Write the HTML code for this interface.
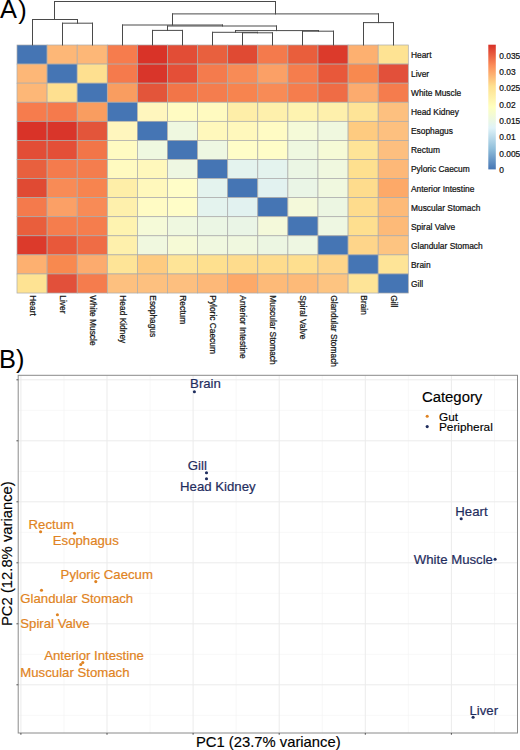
<!DOCTYPE html><html><head><meta charset="utf-8"><style>html,body{margin:0;padding:0;background:#fff;width:520px;height:750px;overflow:hidden}svg{display:block}text{font-family:"Liberation Sans",sans-serif}</style></head><body>
<svg width="520" height="750" viewBox="0 0 520 750">
<rect width="520" height="750" fill="#fff"/>
<text x="-0.1" y="18.4" font-size="25.4" fill="#000">A</text><text x="18.3" y="18.6" font-size="25.4" fill="#000">)</text>
<rect x="17.00" y="45.00" width="30.10" height="19.08" fill="#4575B4" stroke="#ababab" stroke-width="0.7"/>
<rect x="47.10" y="45.00" width="30.10" height="19.08" fill="#FDB777" stroke="#ababab" stroke-width="0.7"/>
<rect x="77.20" y="45.00" width="30.10" height="19.08" fill="#FDB777" stroke="#ababab" stroke-width="0.7"/>
<rect x="107.30" y="45.00" width="30.10" height="19.08" fill="#F67C4D" stroke="#ababab" stroke-width="0.7"/>
<rect x="137.40" y="45.00" width="30.10" height="19.08" fill="#D93328" stroke="#ababab" stroke-width="0.7"/>
<rect x="167.50" y="45.00" width="30.10" height="19.08" fill="#E24D36" stroke="#ababab" stroke-width="0.7"/>
<rect x="197.60" y="45.00" width="30.10" height="19.08" fill="#E8603E" stroke="#ababab" stroke-width="0.7"/>
<rect x="227.70" y="45.00" width="30.10" height="19.08" fill="#E04A33" stroke="#ababab" stroke-width="0.7"/>
<rect x="257.80" y="45.00" width="30.10" height="19.08" fill="#F47A4C" stroke="#ababab" stroke-width="0.7"/>
<rect x="287.90" y="45.00" width="30.10" height="19.08" fill="#E95E3C" stroke="#ababab" stroke-width="0.7"/>
<rect x="318.00" y="45.00" width="30.10" height="19.08" fill="#DC3A2B" stroke="#ababab" stroke-width="0.7"/>
<rect x="348.10" y="45.00" width="30.10" height="19.08" fill="#FDB070" stroke="#ababab" stroke-width="0.7"/>
<rect x="378.20" y="45.00" width="30.10" height="19.08" fill="#FEE393" stroke="#ababab" stroke-width="0.7"/>
<rect x="17.00" y="64.08" width="30.10" height="19.08" fill="#FDB777" stroke="#ababab" stroke-width="0.7"/>
<rect x="47.10" y="64.08" width="30.10" height="19.08" fill="#4575B4" stroke="#ababab" stroke-width="0.7"/>
<rect x="77.20" y="64.08" width="30.10" height="19.08" fill="#FEE090" stroke="#ababab" stroke-width="0.7"/>
<rect x="107.30" y="64.08" width="30.10" height="19.08" fill="#F57A4C" stroke="#ababab" stroke-width="0.7"/>
<rect x="137.40" y="64.08" width="30.10" height="19.08" fill="#D9352A" stroke="#ababab" stroke-width="0.7"/>
<rect x="167.50" y="64.08" width="30.10" height="19.08" fill="#E44F37" stroke="#ababab" stroke-width="0.7"/>
<rect x="197.60" y="64.08" width="30.10" height="19.08" fill="#F47B4D" stroke="#ababab" stroke-width="0.7"/>
<rect x="227.70" y="64.08" width="30.10" height="19.08" fill="#F88B56" stroke="#ababab" stroke-width="0.7"/>
<rect x="257.80" y="64.08" width="30.10" height="19.08" fill="#FBA066" stroke="#ababab" stroke-width="0.7"/>
<rect x="287.90" y="64.08" width="30.10" height="19.08" fill="#F57D4D" stroke="#ababab" stroke-width="0.7"/>
<rect x="318.00" y="64.08" width="30.10" height="19.08" fill="#E8583A" stroke="#ababab" stroke-width="0.7"/>
<rect x="348.10" y="64.08" width="30.10" height="19.08" fill="#F8894F" stroke="#ababab" stroke-width="0.7"/>
<rect x="378.20" y="64.08" width="30.10" height="19.08" fill="#E2503A" stroke="#ababab" stroke-width="0.7"/>
<rect x="17.00" y="83.16" width="30.10" height="19.08" fill="#FDB777" stroke="#ababab" stroke-width="0.7"/>
<rect x="47.10" y="83.16" width="30.10" height="19.08" fill="#FEE090" stroke="#ababab" stroke-width="0.7"/>
<rect x="77.20" y="83.16" width="30.10" height="19.08" fill="#4575B4" stroke="#ababab" stroke-width="0.7"/>
<rect x="107.30" y="83.16" width="30.10" height="19.08" fill="#F99D60" stroke="#ababab" stroke-width="0.7"/>
<rect x="137.40" y="83.16" width="30.10" height="19.08" fill="#E3553A" stroke="#ababab" stroke-width="0.7"/>
<rect x="167.50" y="83.16" width="30.10" height="19.08" fill="#F27548" stroke="#ababab" stroke-width="0.7"/>
<rect x="197.60" y="83.16" width="30.10" height="19.08" fill="#F47D4E" stroke="#ababab" stroke-width="0.7"/>
<rect x="227.70" y="83.16" width="30.10" height="19.08" fill="#F7844F" stroke="#ababab" stroke-width="0.7"/>
<rect x="257.80" y="83.16" width="30.10" height="19.08" fill="#F88B56" stroke="#ababab" stroke-width="0.7"/>
<rect x="287.90" y="83.16" width="30.10" height="19.08" fill="#F57D4D" stroke="#ababab" stroke-width="0.7"/>
<rect x="318.00" y="83.16" width="30.10" height="19.08" fill="#EF6C45" stroke="#ababab" stroke-width="0.7"/>
<rect x="348.10" y="83.16" width="30.10" height="19.08" fill="#FCAB6E" stroke="#ababab" stroke-width="0.7"/>
<rect x="378.20" y="83.16" width="30.10" height="19.08" fill="#F57C4D" stroke="#ababab" stroke-width="0.7"/>
<rect x="17.00" y="102.24" width="30.10" height="19.08" fill="#F67C4D" stroke="#ababab" stroke-width="0.7"/>
<rect x="47.10" y="102.24" width="30.10" height="19.08" fill="#F57A4C" stroke="#ababab" stroke-width="0.7"/>
<rect x="77.20" y="102.24" width="30.10" height="19.08" fill="#F99D60" stroke="#ababab" stroke-width="0.7"/>
<rect x="107.30" y="102.24" width="30.10" height="19.08" fill="#4575B4" stroke="#ababab" stroke-width="0.7"/>
<rect x="137.40" y="102.24" width="30.10" height="19.08" fill="#FFF6BE" stroke="#ababab" stroke-width="0.7"/>
<rect x="167.50" y="102.24" width="30.10" height="19.08" fill="#FFFBC2" stroke="#ababab" stroke-width="0.7"/>
<rect x="197.60" y="102.24" width="30.10" height="19.08" fill="#FFFAC0" stroke="#ababab" stroke-width="0.7"/>
<rect x="227.70" y="102.24" width="30.10" height="19.08" fill="#FEEEA8" stroke="#ababab" stroke-width="0.7"/>
<rect x="257.80" y="102.24" width="30.10" height="19.08" fill="#FEF0AC" stroke="#ababab" stroke-width="0.7"/>
<rect x="287.90" y="102.24" width="30.10" height="19.08" fill="#FEF3B0" stroke="#ababab" stroke-width="0.7"/>
<rect x="318.00" y="102.24" width="30.10" height="19.08" fill="#FEF0AC" stroke="#ababab" stroke-width="0.7"/>
<rect x="348.10" y="102.24" width="30.10" height="19.08" fill="#FEE497" stroke="#ababab" stroke-width="0.7"/>
<rect x="378.20" y="102.24" width="30.10" height="19.08" fill="#FDC07F" stroke="#ababab" stroke-width="0.7"/>
<rect x="17.00" y="121.32" width="30.10" height="19.08" fill="#D93328" stroke="#ababab" stroke-width="0.7"/>
<rect x="47.10" y="121.32" width="30.10" height="19.08" fill="#D9352A" stroke="#ababab" stroke-width="0.7"/>
<rect x="77.20" y="121.32" width="30.10" height="19.08" fill="#E3553A" stroke="#ababab" stroke-width="0.7"/>
<rect x="107.30" y="121.32" width="30.10" height="19.08" fill="#FFF6BE" stroke="#ababab" stroke-width="0.7"/>
<rect x="137.40" y="121.32" width="30.10" height="19.08" fill="#4575B4" stroke="#ababab" stroke-width="0.7"/>
<rect x="167.50" y="121.32" width="30.10" height="19.08" fill="#EFF8E0" stroke="#ababab" stroke-width="0.7"/>
<rect x="197.60" y="121.32" width="30.10" height="19.08" fill="#FFF8BC" stroke="#ababab" stroke-width="0.7"/>
<rect x="227.70" y="121.32" width="30.10" height="19.08" fill="#FFF8BC" stroke="#ababab" stroke-width="0.7"/>
<rect x="257.80" y="121.32" width="30.10" height="19.08" fill="#FFFBC4" stroke="#ababab" stroke-width="0.7"/>
<rect x="287.90" y="121.32" width="30.10" height="19.08" fill="#F5FAD8" stroke="#ababab" stroke-width="0.7"/>
<rect x="318.00" y="121.32" width="30.10" height="19.08" fill="#F0F8DF" stroke="#ababab" stroke-width="0.7"/>
<rect x="348.10" y="121.32" width="30.10" height="19.08" fill="#FECB80" stroke="#ababab" stroke-width="0.7"/>
<rect x="378.20" y="121.32" width="30.10" height="19.08" fill="#FDC07F" stroke="#ababab" stroke-width="0.7"/>
<rect x="17.00" y="140.40" width="30.10" height="19.08" fill="#E24D36" stroke="#ababab" stroke-width="0.7"/>
<rect x="47.10" y="140.40" width="30.10" height="19.08" fill="#E44F37" stroke="#ababab" stroke-width="0.7"/>
<rect x="77.20" y="140.40" width="30.10" height="19.08" fill="#F27548" stroke="#ababab" stroke-width="0.7"/>
<rect x="107.30" y="140.40" width="30.10" height="19.08" fill="#FFFBC2" stroke="#ababab" stroke-width="0.7"/>
<rect x="137.40" y="140.40" width="30.10" height="19.08" fill="#EFF8E0" stroke="#ababab" stroke-width="0.7"/>
<rect x="167.50" y="140.40" width="30.10" height="19.08" fill="#4575B4" stroke="#ababab" stroke-width="0.7"/>
<rect x="197.60" y="140.40" width="30.10" height="19.08" fill="#EEF7E2" stroke="#ababab" stroke-width="0.7"/>
<rect x="227.70" y="140.40" width="30.10" height="19.08" fill="#FFFDC8" stroke="#ababab" stroke-width="0.7"/>
<rect x="257.80" y="140.40" width="30.10" height="19.08" fill="#FFFDC8" stroke="#ababab" stroke-width="0.7"/>
<rect x="287.90" y="140.40" width="30.10" height="19.08" fill="#EFF8E0" stroke="#ababab" stroke-width="0.7"/>
<rect x="318.00" y="140.40" width="30.10" height="19.08" fill="#F6FAD6" stroke="#ababab" stroke-width="0.7"/>
<rect x="348.10" y="140.40" width="30.10" height="19.08" fill="#FEE497" stroke="#ababab" stroke-width="0.7"/>
<rect x="378.20" y="140.40" width="30.10" height="19.08" fill="#FDBF7F" stroke="#ababab" stroke-width="0.7"/>
<rect x="17.00" y="159.48" width="30.10" height="19.08" fill="#E8603E" stroke="#ababab" stroke-width="0.7"/>
<rect x="47.10" y="159.48" width="30.10" height="19.08" fill="#F47B4D" stroke="#ababab" stroke-width="0.7"/>
<rect x="77.20" y="159.48" width="30.10" height="19.08" fill="#F47D4E" stroke="#ababab" stroke-width="0.7"/>
<rect x="107.30" y="159.48" width="30.10" height="19.08" fill="#FFFAC0" stroke="#ababab" stroke-width="0.7"/>
<rect x="137.40" y="159.48" width="30.10" height="19.08" fill="#FFF8BC" stroke="#ababab" stroke-width="0.7"/>
<rect x="167.50" y="159.48" width="30.10" height="19.08" fill="#EEF7E2" stroke="#ababab" stroke-width="0.7"/>
<rect x="197.60" y="159.48" width="30.10" height="19.08" fill="#4575B4" stroke="#ababab" stroke-width="0.7"/>
<rect x="227.70" y="159.48" width="30.10" height="19.08" fill="#E4F3EE" stroke="#ababab" stroke-width="0.7"/>
<rect x="257.80" y="159.48" width="30.10" height="19.08" fill="#E4F3EE" stroke="#ababab" stroke-width="0.7"/>
<rect x="287.90" y="159.48" width="30.10" height="19.08" fill="#EBF6E4" stroke="#ababab" stroke-width="0.7"/>
<rect x="318.00" y="159.48" width="30.10" height="19.08" fill="#F0F8DF" stroke="#ababab" stroke-width="0.7"/>
<rect x="348.10" y="159.48" width="30.10" height="19.08" fill="#FEE08F" stroke="#ababab" stroke-width="0.7"/>
<rect x="378.20" y="159.48" width="30.10" height="19.08" fill="#FDB878" stroke="#ababab" stroke-width="0.7"/>
<rect x="17.00" y="178.56" width="30.10" height="19.08" fill="#E04A33" stroke="#ababab" stroke-width="0.7"/>
<rect x="47.10" y="178.56" width="30.10" height="19.08" fill="#F88B56" stroke="#ababab" stroke-width="0.7"/>
<rect x="77.20" y="178.56" width="30.10" height="19.08" fill="#F7844F" stroke="#ababab" stroke-width="0.7"/>
<rect x="107.30" y="178.56" width="30.10" height="19.08" fill="#FEEEA8" stroke="#ababab" stroke-width="0.7"/>
<rect x="137.40" y="178.56" width="30.10" height="19.08" fill="#FFF8BC" stroke="#ababab" stroke-width="0.7"/>
<rect x="167.50" y="178.56" width="30.10" height="19.08" fill="#FFFDC8" stroke="#ababab" stroke-width="0.7"/>
<rect x="197.60" y="178.56" width="30.10" height="19.08" fill="#E4F3EE" stroke="#ababab" stroke-width="0.7"/>
<rect x="227.70" y="178.56" width="30.10" height="19.08" fill="#4575B4" stroke="#ababab" stroke-width="0.7"/>
<rect x="257.80" y="178.56" width="30.10" height="19.08" fill="#E2F2F0" stroke="#ababab" stroke-width="0.7"/>
<rect x="287.90" y="178.56" width="30.10" height="19.08" fill="#EAF5E6" stroke="#ababab" stroke-width="0.7"/>
<rect x="318.00" y="178.56" width="30.10" height="19.08" fill="#F0F8DF" stroke="#ababab" stroke-width="0.7"/>
<rect x="348.10" y="178.56" width="30.10" height="19.08" fill="#FEDC8D" stroke="#ababab" stroke-width="0.7"/>
<rect x="378.20" y="178.56" width="30.10" height="19.08" fill="#FDA968" stroke="#ababab" stroke-width="0.7"/>
<rect x="17.00" y="197.64" width="30.10" height="19.08" fill="#F47A4C" stroke="#ababab" stroke-width="0.7"/>
<rect x="47.10" y="197.64" width="30.10" height="19.08" fill="#FBA066" stroke="#ababab" stroke-width="0.7"/>
<rect x="77.20" y="197.64" width="30.10" height="19.08" fill="#F88B56" stroke="#ababab" stroke-width="0.7"/>
<rect x="107.30" y="197.64" width="30.10" height="19.08" fill="#FEF0AC" stroke="#ababab" stroke-width="0.7"/>
<rect x="137.40" y="197.64" width="30.10" height="19.08" fill="#FFFBC4" stroke="#ababab" stroke-width="0.7"/>
<rect x="167.50" y="197.64" width="30.10" height="19.08" fill="#FFFDC8" stroke="#ababab" stroke-width="0.7"/>
<rect x="197.60" y="197.64" width="30.10" height="19.08" fill="#E4F3EE" stroke="#ababab" stroke-width="0.7"/>
<rect x="227.70" y="197.64" width="30.10" height="19.08" fill="#E2F2F0" stroke="#ababab" stroke-width="0.7"/>
<rect x="257.80" y="197.64" width="30.10" height="19.08" fill="#4575B4" stroke="#ababab" stroke-width="0.7"/>
<rect x="287.90" y="197.64" width="30.10" height="19.08" fill="#F4F9DA" stroke="#ababab" stroke-width="0.7"/>
<rect x="318.00" y="197.64" width="30.10" height="19.08" fill="#ECF6E2" stroke="#ababab" stroke-width="0.7"/>
<rect x="348.10" y="197.64" width="30.10" height="19.08" fill="#FEDC8D" stroke="#ababab" stroke-width="0.7"/>
<rect x="378.20" y="197.64" width="30.10" height="19.08" fill="#FDBA78" stroke="#ababab" stroke-width="0.7"/>
<rect x="17.00" y="216.72" width="30.10" height="19.08" fill="#E95E3C" stroke="#ababab" stroke-width="0.7"/>
<rect x="47.10" y="216.72" width="30.10" height="19.08" fill="#F57D4D" stroke="#ababab" stroke-width="0.7"/>
<rect x="77.20" y="216.72" width="30.10" height="19.08" fill="#F57D4D" stroke="#ababab" stroke-width="0.7"/>
<rect x="107.30" y="216.72" width="30.10" height="19.08" fill="#FEF3B0" stroke="#ababab" stroke-width="0.7"/>
<rect x="137.40" y="216.72" width="30.10" height="19.08" fill="#F5FAD8" stroke="#ababab" stroke-width="0.7"/>
<rect x="167.50" y="216.72" width="30.10" height="19.08" fill="#EFF8E0" stroke="#ababab" stroke-width="0.7"/>
<rect x="197.60" y="216.72" width="30.10" height="19.08" fill="#EBF6E4" stroke="#ababab" stroke-width="0.7"/>
<rect x="227.70" y="216.72" width="30.10" height="19.08" fill="#EAF5E6" stroke="#ababab" stroke-width="0.7"/>
<rect x="257.80" y="216.72" width="30.10" height="19.08" fill="#F4F9DA" stroke="#ababab" stroke-width="0.7"/>
<rect x="287.90" y="216.72" width="30.10" height="19.08" fill="#4575B4" stroke="#ababab" stroke-width="0.7"/>
<rect x="318.00" y="216.72" width="30.10" height="19.08" fill="#EEF7E2" stroke="#ababab" stroke-width="0.7"/>
<rect x="348.10" y="216.72" width="30.10" height="19.08" fill="#FEDF8F" stroke="#ababab" stroke-width="0.7"/>
<rect x="378.20" y="216.72" width="30.10" height="19.08" fill="#FDBA78" stroke="#ababab" stroke-width="0.7"/>
<rect x="17.00" y="235.80" width="30.10" height="19.08" fill="#DC3A2B" stroke="#ababab" stroke-width="0.7"/>
<rect x="47.10" y="235.80" width="30.10" height="19.08" fill="#E8583A" stroke="#ababab" stroke-width="0.7"/>
<rect x="77.20" y="235.80" width="30.10" height="19.08" fill="#EF6C45" stroke="#ababab" stroke-width="0.7"/>
<rect x="107.30" y="235.80" width="30.10" height="19.08" fill="#FEF0AC" stroke="#ababab" stroke-width="0.7"/>
<rect x="137.40" y="235.80" width="30.10" height="19.08" fill="#F0F8DF" stroke="#ababab" stroke-width="0.7"/>
<rect x="167.50" y="235.80" width="30.10" height="19.08" fill="#F6FAD6" stroke="#ababab" stroke-width="0.7"/>
<rect x="197.60" y="235.80" width="30.10" height="19.08" fill="#F0F8DF" stroke="#ababab" stroke-width="0.7"/>
<rect x="227.70" y="235.80" width="30.10" height="19.08" fill="#F0F8DF" stroke="#ababab" stroke-width="0.7"/>
<rect x="257.80" y="235.80" width="30.10" height="19.08" fill="#ECF6E2" stroke="#ababab" stroke-width="0.7"/>
<rect x="287.90" y="235.80" width="30.10" height="19.08" fill="#EEF7E2" stroke="#ababab" stroke-width="0.7"/>
<rect x="318.00" y="235.80" width="30.10" height="19.08" fill="#4575B4" stroke="#ababab" stroke-width="0.7"/>
<rect x="348.10" y="235.80" width="30.10" height="19.08" fill="#FED58A" stroke="#ababab" stroke-width="0.7"/>
<rect x="378.20" y="235.80" width="30.10" height="19.08" fill="#FDC481" stroke="#ababab" stroke-width="0.7"/>
<rect x="17.00" y="254.88" width="30.10" height="19.08" fill="#FDB070" stroke="#ababab" stroke-width="0.7"/>
<rect x="47.10" y="254.88" width="30.10" height="19.08" fill="#F8894F" stroke="#ababab" stroke-width="0.7"/>
<rect x="77.20" y="254.88" width="30.10" height="19.08" fill="#FCAB6E" stroke="#ababab" stroke-width="0.7"/>
<rect x="107.30" y="254.88" width="30.10" height="19.08" fill="#FEE497" stroke="#ababab" stroke-width="0.7"/>
<rect x="137.40" y="254.88" width="30.10" height="19.08" fill="#FECB80" stroke="#ababab" stroke-width="0.7"/>
<rect x="167.50" y="254.88" width="30.10" height="19.08" fill="#FEE497" stroke="#ababab" stroke-width="0.7"/>
<rect x="197.60" y="254.88" width="30.10" height="19.08" fill="#FEE08F" stroke="#ababab" stroke-width="0.7"/>
<rect x="227.70" y="254.88" width="30.10" height="19.08" fill="#FEDC8D" stroke="#ababab" stroke-width="0.7"/>
<rect x="257.80" y="254.88" width="30.10" height="19.08" fill="#FEDC8D" stroke="#ababab" stroke-width="0.7"/>
<rect x="287.90" y="254.88" width="30.10" height="19.08" fill="#FEDF8F" stroke="#ababab" stroke-width="0.7"/>
<rect x="318.00" y="254.88" width="30.10" height="19.08" fill="#FED58A" stroke="#ababab" stroke-width="0.7"/>
<rect x="348.10" y="254.88" width="30.10" height="19.08" fill="#4575B4" stroke="#ababab" stroke-width="0.7"/>
<rect x="378.20" y="254.88" width="30.10" height="19.08" fill="#FEE497" stroke="#ababab" stroke-width="0.7"/>
<rect x="17.00" y="273.96" width="30.10" height="19.08" fill="#FEE393" stroke="#ababab" stroke-width="0.7"/>
<rect x="47.10" y="273.96" width="30.10" height="19.08" fill="#E2503A" stroke="#ababab" stroke-width="0.7"/>
<rect x="77.20" y="273.96" width="30.10" height="19.08" fill="#F57C4D" stroke="#ababab" stroke-width="0.7"/>
<rect x="107.30" y="273.96" width="30.10" height="19.08" fill="#FDC07F" stroke="#ababab" stroke-width="0.7"/>
<rect x="137.40" y="273.96" width="30.10" height="19.08" fill="#FDC07F" stroke="#ababab" stroke-width="0.7"/>
<rect x="167.50" y="273.96" width="30.10" height="19.08" fill="#FDBF7F" stroke="#ababab" stroke-width="0.7"/>
<rect x="197.60" y="273.96" width="30.10" height="19.08" fill="#FDB878" stroke="#ababab" stroke-width="0.7"/>
<rect x="227.70" y="273.96" width="30.10" height="19.08" fill="#FDA968" stroke="#ababab" stroke-width="0.7"/>
<rect x="257.80" y="273.96" width="30.10" height="19.08" fill="#FDBA78" stroke="#ababab" stroke-width="0.7"/>
<rect x="287.90" y="273.96" width="30.10" height="19.08" fill="#FDBA78" stroke="#ababab" stroke-width="0.7"/>
<rect x="318.00" y="273.96" width="30.10" height="19.08" fill="#FDC481" stroke="#ababab" stroke-width="0.7"/>
<rect x="348.10" y="273.96" width="30.10" height="19.08" fill="#FEE497" stroke="#ababab" stroke-width="0.7"/>
<rect x="378.20" y="273.96" width="30.10" height="19.08" fill="#4575B4" stroke="#ababab" stroke-width="0.7"/>
<path d="M62.50 45.00L62.50 23.20 M92.50 45.00L92.50 23.20 M62.50 23.20L92.50 23.20 M32.50 45.00L32.50 19.50 M77.50 23.20L77.50 19.50 M32.50 19.50L77.50 19.50 M152.50 45.00L152.50 30.40 M182.50 45.00L182.50 30.40 M152.50 30.40L182.50 30.40 M242.50 45.00L242.50 32.80 M272.50 45.00L272.50 32.80 M242.50 32.80L272.50 32.80 M212.50 45.00L212.50 32.30 M257.50 32.80L257.50 32.30 M212.50 32.30L257.50 32.30 M302.50 45.00L302.50 31.20 M333.50 45.00L333.50 31.20 M302.50 31.20L333.50 31.20 M235.50 32.30L235.50 30.60 M318.50 31.20L318.50 30.60 M235.50 30.60L318.50 30.60 M167.50 30.40L167.50 26.00 M276.50 30.60L276.50 26.00 M167.50 26.00L276.50 26.00 M122.50 45.00L122.50 25.00 M222.50 26.00L222.50 25.00 M122.50 25.00L222.50 25.00 M363.50 45.00L363.50 22.60 M393.50 45.00L393.50 22.60 M363.50 22.60L393.50 22.60 M172.50 25.00L172.50 13.90 M378.50 22.60L378.50 13.90 M172.50 13.90L378.50 13.90 M54.50 19.50L54.50 1.50 M275.50 13.90L275.50 1.50 M54.50 1.50L275.50 1.50" stroke="#4a4a4a" stroke-width="1" fill="none" stroke-linecap="square"/>
<text x="411" y="57.94" font-size="8.4" fill="#111" stroke="#111" stroke-width="0.22">Heart</text>
<text x="411" y="77.02" font-size="8.4" fill="#111" stroke="#111" stroke-width="0.22">Liver</text>
<text x="411" y="96.10" font-size="8.4" fill="#111" stroke="#111" stroke-width="0.22">White Muscle</text>
<text x="411" y="115.18" font-size="8.4" fill="#111" stroke="#111" stroke-width="0.22">Head Kidney</text>
<text x="411" y="134.26" font-size="8.4" fill="#111" stroke="#111" stroke-width="0.22">Esophagus</text>
<text x="411" y="153.34" font-size="8.4" fill="#111" stroke="#111" stroke-width="0.22">Rectum</text>
<text x="411" y="172.42" font-size="8.4" fill="#111" stroke="#111" stroke-width="0.22">Pyloric Caecum</text>
<text x="411" y="191.50" font-size="8.4" fill="#111" stroke="#111" stroke-width="0.22">Anterior Intestine</text>
<text x="411" y="210.58" font-size="8.4" fill="#111" stroke="#111" stroke-width="0.22">Muscular Stomach</text>
<text x="411" y="229.66" font-size="8.4" fill="#111" stroke="#111" stroke-width="0.22">Spiral Valve</text>
<text x="411" y="248.74" font-size="8.4" fill="#111" stroke="#111" stroke-width="0.22">Glandular Stomach</text>
<text x="411" y="267.82" font-size="8.4" fill="#111" stroke="#111" stroke-width="0.22">Brain</text>
<text x="411" y="286.90" font-size="8.4" fill="#111" stroke="#111" stroke-width="0.22">Gill</text>
<text transform="translate(29.55,295.3) rotate(90)" x="0" y="0" font-size="8.4" fill="#111" stroke="#111" stroke-width="0.22">Heart</text>
<text transform="translate(59.65,295.3) rotate(90)" x="0" y="0" font-size="8.4" fill="#111" stroke="#111" stroke-width="0.22">Liver</text>
<text transform="translate(89.75,295.3) rotate(90)" x="0" y="0" font-size="8.4" fill="#111" stroke="#111" stroke-width="0.22">White Muscle</text>
<text transform="translate(119.85,295.3) rotate(90)" x="0" y="0" font-size="8.4" fill="#111" stroke="#111" stroke-width="0.22">Head Kidney</text>
<text transform="translate(149.95,295.3) rotate(90)" x="0" y="0" font-size="8.4" fill="#111" stroke="#111" stroke-width="0.22">Esophagus</text>
<text transform="translate(180.05,295.3) rotate(90)" x="0" y="0" font-size="8.4" fill="#111" stroke="#111" stroke-width="0.22">Rectum</text>
<text transform="translate(210.15,295.3) rotate(90)" x="0" y="0" font-size="8.4" fill="#111" stroke="#111" stroke-width="0.22">Pyloric Caecum</text>
<text transform="translate(240.25,295.3) rotate(90)" x="0" y="0" font-size="8.4" fill="#111" stroke="#111" stroke-width="0.22">Anterior Intestine</text>
<text transform="translate(270.35,295.3) rotate(90)" x="0" y="0" font-size="8.4" fill="#111" stroke="#111" stroke-width="0.22">Muscular Stomach</text>
<text transform="translate(300.45,295.3) rotate(90)" x="0" y="0" font-size="8.4" fill="#111" stroke="#111" stroke-width="0.22">Spiral Valve</text>
<text transform="translate(330.55,295.3) rotate(90)" x="0" y="0" font-size="8.4" fill="#111" stroke="#111" stroke-width="0.22">Glandular Stomach</text>
<text transform="translate(360.65,295.3) rotate(90)" x="0" y="0" font-size="8.4" fill="#111" stroke="#111" stroke-width="0.22">Brain</text>
<text transform="translate(390.75,295.3) rotate(90)" x="0" y="0" font-size="8.4" fill="#111" stroke="#111" stroke-width="0.22">Gill</text>
<defs><linearGradient id="cb" x1="0" y1="1" x2="0" y2="0"><stop offset="0" stop-color="#4575B4"/><stop offset="0.1667" stop-color="#91BFDB"/><stop offset="0.3333" stop-color="#E0F3F8"/><stop offset="0.5" stop-color="#FFFFBF"/><stop offset="0.6667" stop-color="#FEE090"/><stop offset="0.8333" stop-color="#FC8D59"/><stop offset="1" stop-color="#D73027"/></linearGradient></defs>
<rect x="488.3" y="44.7" width="7.5" height="124.7" fill="url(#cb)"/>
<text x="499.3" y="58.85" font-size="8.4" fill="#111" stroke="#111" stroke-width="0.22">0.035</text>
<text x="499.3" y="75.14" font-size="8.4" fill="#111" stroke="#111" stroke-width="0.22">0.03</text>
<text x="499.3" y="91.44" font-size="8.4" fill="#111" stroke="#111" stroke-width="0.22">0.025</text>
<text x="499.3" y="107.73" font-size="8.4" fill="#111" stroke="#111" stroke-width="0.22">0.02</text>
<text x="499.3" y="124.02" font-size="8.4" fill="#111" stroke="#111" stroke-width="0.22">0.015</text>
<text x="499.3" y="140.31" font-size="8.4" fill="#111" stroke="#111" stroke-width="0.22">0.01</text>
<text x="499.3" y="156.61" font-size="8.4" fill="#111" stroke="#111" stroke-width="0.22">0.005</text>
<text x="499.3" y="172.90" font-size="8.4" fill="#111" stroke="#111" stroke-width="0.22">0</text>
<text x="-1" y="367.5" font-size="25.4" fill="#000">B)</text>
<path d="M63.95 375.3V733.0 M150.05 375.3V733.0 M236.15 375.3V733.0 M322.25 375.3V733.0 M408.35 375.3V733.0 M494.45 375.3V733.0 M18.2 410.30H517.5 M18.2 471.30H517.5 M18.2 532.30H517.5 M18.2 593.30H517.5 M18.2 654.30H517.5 M18.2 715.30H517.5" stroke="#f2f2f2" stroke-width="0.6" fill="none"/>
<path d="M20.90 375.3V733.0 M107.00 375.3V733.0 M193.10 375.3V733.0 M279.20 375.3V733.0 M365.30 375.3V733.0 M451.40 375.3V733.0 M18.2 379.80H517.5 M18.2 440.80H517.5 M18.2 501.80H517.5 M18.2 562.80H517.5 M18.2 623.80H517.5 M18.2 684.80H517.5" stroke="#ebebeb" stroke-width="1" fill="none"/>
<rect x="18.2" y="375.3" width="499.30" height="357.70" fill="none" stroke="#8a8a8a" stroke-width="1"/>
<path d="M20.90 733.0V734.8 M107.00 733.0V734.8 M193.10 733.0V734.8 M279.20 733.0V734.8 M365.30 733.0V734.8 M451.40 733.0V734.8 M18.2 379.80H16.4 M18.2 440.80H16.4 M18.2 501.80H16.4 M18.2 562.80H16.4 M18.2 623.80H16.4 M18.2 684.80H16.4" stroke="#333" stroke-width="0.8" fill="none"/>
<circle cx="194.4" cy="391.7" r="1.55" fill="#1F2D5E"/>
<circle cx="206.5" cy="472.7" r="1.55" fill="#1F2D5E"/>
<circle cx="206.5" cy="478.8" r="1.55" fill="#1F2D5E"/>
<circle cx="461.2" cy="518.8" r="1.55" fill="#1F2D5E"/>
<circle cx="495.1" cy="559.2" r="1.55" fill="#1F2D5E"/>
<circle cx="473.1" cy="717.2" r="1.55" fill="#1F2D5E"/>
<circle cx="40.6" cy="531.8" r="1.55" fill="#DF8322"/>
<circle cx="74.5" cy="533.2" r="1.55" fill="#DF8322"/>
<circle cx="95.8" cy="581.6" r="1.55" fill="#DF8322"/>
<circle cx="41.5" cy="590.3" r="1.55" fill="#DF8322"/>
<circle cx="57.4" cy="614.8" r="1.55" fill="#DF8322"/>
<circle cx="82.8" cy="662.5" r="1.55" fill="#DF8322"/>
<circle cx="80.8" cy="664.5" r="1.55" fill="#DF8322"/>
<text x="190.10" y="388.3" font-size="13.2" fill="#1F2D5E" stroke="#1F2D5E" stroke-width="0.2">Brain</text>
<text x="187.80" y="469.6" font-size="13.2" fill="#1F2D5E" stroke="#1F2D5E" stroke-width="0.2">Gill</text>
<text x="180.10" y="491.0" font-size="13.2" fill="#1F2D5E" stroke="#1F2D5E" stroke-width="0.2">Head Kidney</text>
<text x="455.30" y="515.8" font-size="13.2" fill="#1F2D5E" stroke="#1F2D5E" stroke-width="0.2">Heart</text>
<text x="413.80" y="563.8" font-size="13.2" fill="#1F2D5E" stroke="#1F2D5E" stroke-width="0.2">White Muscle</text>
<text x="469.50" y="714.6" font-size="13.2" fill="#1F2D5E" stroke="#1F2D5E" stroke-width="0.2">Liver</text>
<text x="28.60" y="528.8" font-size="13.2" fill="#DF8322" stroke="#DF8322" stroke-width="0.2">Rectum</text>
<text x="52.80" y="544.7" font-size="13.2" fill="#DF8322" stroke="#DF8322" stroke-width="0.2">Esophagus</text>
<text x="60.60" y="578.7" font-size="13.2" fill="#DF8322" stroke="#DF8322" stroke-width="0.2">Pyloric Caecum</text>
<text x="20.30" y="602.7" font-size="13.2" fill="#DF8322" stroke="#DF8322" stroke-width="0.2">Glandular Stomach</text>
<text x="20.30" y="627.8" font-size="13.2" fill="#DF8322" stroke="#DF8322" stroke-width="0.2">Spiral Valve</text>
<text x="44.20" y="660.2" font-size="13.2" fill="#DF8322" stroke="#DF8322" stroke-width="0.2">Anterior Intestine</text>
<text x="20.30" y="676.9" font-size="13.2" fill="#DF8322" stroke="#DF8322" stroke-width="0.2">Muscular Stomach</text>
<text x="195.9" y="746.8" font-size="14.8" fill="#000" stroke="#000" stroke-width="0.15">PC1 (23.7% variance)</text>
<text transform="translate(11.9,626.0) rotate(-90)" x="0" y="0" font-size="14.8" fill="#000" stroke="#000" stroke-width="0.15">PC2 (12.8% variance)</text>
<text x="421.9" y="401.6" font-size="14.9" fill="#000" stroke="#000" stroke-width="0.15">Category</text>
<circle cx="427.2" cy="416.2" r="1.55" fill="#DF8322"/>
<circle cx="427.2" cy="426.6" r="1.55" fill="#1F2D5E"/>
<text x="439" y="420.5" font-size="11.8" fill="#000" stroke="#000" stroke-width="0.15">Gut</text>
<text x="439" y="431.3" font-size="11.8" fill="#000" stroke="#000" stroke-width="0.15">Peripheral</text>
</svg></body></html>
